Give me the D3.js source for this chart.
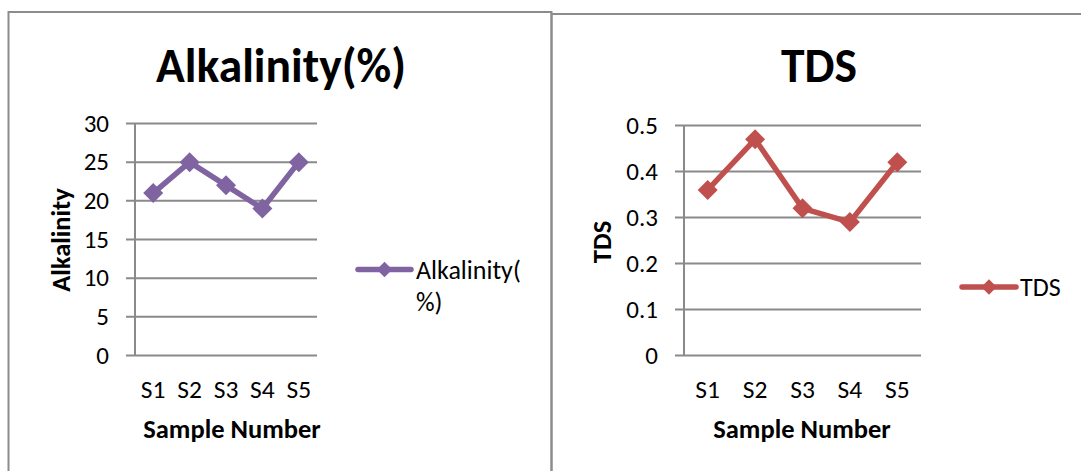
<!DOCTYPE html>
<html>
<head>
<meta charset="utf-8">
<script src="https://cdn.jsdelivr.net/npm/d3@7"></script>
<style>
  html, body { margin: 0; padding: 0; background: #fff; }
  svg { display: block; }
  text { font-family: Carlito, Lato, "Open Sans", sans-serif; fill: #000; }
</style>
</head>
<body>
<svg id="chart" width="1081" height="471"></svg>
<script>
// Sample data
const samples = ["S1", "S2", "S3", "S4", "S5"];
const alkalinity = [21, 25, 22, 19, 25];
const tds = [0.36, 0.47, 0.32, 0.29, 0.42];
const alkalinityTicks = [0, 5, 10, 15, 20, 25, 30];
const tdsTicks = [0, 0.1, 0.2, 0.3, 0.4, 0.5];

const svg = d3.select("#chart");
svg.append("rect").attr("width", 1081).attr("height", 471).attr("fill", "#fff");

const gridColor = "#8a8a8a";

function drawPanel(cfg) {
  const g = svg.append("g");

  // panel frame
  g.append("rect")
    .attr("x", cfg.frame[0]).attr("y", cfg.frame[1])
    .attr("width", cfg.frame[2]).attr("height", cfg.frame[3])
    .attr("fill", "none").attr("stroke", "#8c8c8c").attr("stroke-width", 2);

  const x = d3.scaleBand().domain(cfg.categories).range([cfg.plot.left, cfg.plot.right]);
  const y = d3.scaleLinear().domain(cfg.domain).range([cfg.plot.bottom, cfg.plot.top]);

  // horizontal gridlines (extend left as tick marks)
  g.append("g").selectAll("line").data(cfg.ticks).join("line")
    .attr("x1", cfg.plot.left - 9).attr("x2", cfg.plot.right)
    .attr("y1", d => y(d)).attr("y2", d => y(d))
    .attr("stroke", gridColor).attr("stroke-width", 2);

  // vertical axis line
  g.append("line")
    .attr("x1", cfg.plot.left).attr("x2", cfg.plot.left)
    .attr("y1", y(cfg.domain[1])).attr("y2", y(cfg.domain[0]))
    .attr("stroke", gridColor).attr("stroke-width", 2);

  // y tick labels
  g.append("g").selectAll("text").data(cfg.ticks).join("text")
    .attr("x", cfg.plot.left - 26).attr("y", d => y(d))
    .attr("dy", "0.33em").attr("text-anchor", "end")
    .style("font-size", "25px")
    .text(cfg.tickFormat);

  // x tick labels
  g.append("g").selectAll("text").data(cfg.categories).join("text")
    .attr("x", d => x(d) + x.bandwidth() / 2).attr("y", 398)
    .attr("text-anchor", "middle")
    .style("font-size", "25.5px")
    .text(d => d);

  // series line
  const pts = cfg.values.map((v, i) => [x(cfg.categories[i]) + x.bandwidth() / 2, y(v)]);
  g.append("path")
    .attr("d", d3.line()(pts))
    .attr("fill", "none").attr("stroke", cfg.color)
    .attr("stroke-width", 5.5).attr("stroke-linejoin", "round");

  const diamond = d3.symbol(d3.symbolSquare, 200);
  g.append("g").selectAll("path").data(pts).join("path")
    .attr("d", diamond)
    .attr("transform", d => `translate(${d[0]},${d[1]}) rotate(45)`)
    .attr("fill", cfg.color);

  // chart title
  g.append("text")
    .attr("x", cfg.title.x).attr("y", 82)
    .attr("text-anchor", "middle")
    .attr("textLength", cfg.title.w).attr("lengthAdjust", "spacingAndGlyphs")
    .style("font-size", "48px").style("font-weight", "bold")
    .text(cfg.title.text);

  // x axis title
  g.append("text")
    .attr("x", cfg.xTitle.x).attr("y", 438)
    .attr("text-anchor", "middle")
    .style("font-size", "26.5px").style("font-weight", "bold")
    .text("Sample Number");

  // y axis title
  g.append("text")
    .attr("transform", `translate(${cfg.yTitle.x},${cfg.yTitle.y}) rotate(-90)`)
    .attr("text-anchor", "middle")
    .style("font-size", "26.5px").style("font-weight", "bold")
    .text(cfg.yTitle.text);

  // legend
  const lg = g.append("g");
  lg.append("line")
    .attr("x1", cfg.legend.x1).attr("x2", cfg.legend.x2)
    .attr("y1", cfg.legend.y).attr("y2", cfg.legend.y)
    .attr("stroke", cfg.color).attr("stroke-width", 5.5).attr("stroke-linecap", "round");
  lg.append("path")
    .attr("d", d3.symbol(d3.symbolSquare, 120))
    .attr("transform", `translate(${(cfg.legend.x1 + cfg.legend.x2) / 2},${cfg.legend.y}) rotate(45)`)
    .attr("fill", cfg.color);
  cfg.legend.lines.forEach((t, i) => {
    lg.append("text")
      .attr("x", cfg.legend.tx).attr("y", cfg.legend.ty + i * 32)
      .style("font-size", "26px")
      .text(t);
  });
}

drawPanel({
  frame: [8.5, 12, 543, 470],
  categories: samples,
  values: alkalinity,
  domain: [0, 30],
  ticks: alkalinityTicks,
  tickFormat: d => d,
  plot: { left: 135, right: 317, top: 123.5, bottom: 355.5 },
  color: "#8064a2",
  title: { text: "Alkalinity(%)", x: 281, w: 250 },
  xTitle: { x: 232 },
  yTitle: { text: "Alkalinity", x: 70, y: 240 },
  legend: { x1: 358, x2: 411, y: 269.5, tx: 416, ty: 279, lines: ["Alkalinity(", "%)"] }
});

drawPanel({
  frame: [551.5, 14, 600, 470],
  categories: samples,
  values: tds,
  domain: [0, 0.5],
  ticks: tdsTicks,
  tickFormat: d => d === 0 ? "0" : d3.format(".1f")(d),
  plot: { left: 684, right: 921, top: 125.5, bottom: 355.5 },
  color: "#c0504d",
  title: { text: "TDS", x: 819, w: 76 },
  xTitle: { x: 802 },
  yTitle: { text: "TDS", x: 611, y: 242 },
  legend: { x1: 962, x2: 1016, y: 287, tx: 1020, ty: 296, lines: ["TDS"] }
});
</script>
</body>
</html>
